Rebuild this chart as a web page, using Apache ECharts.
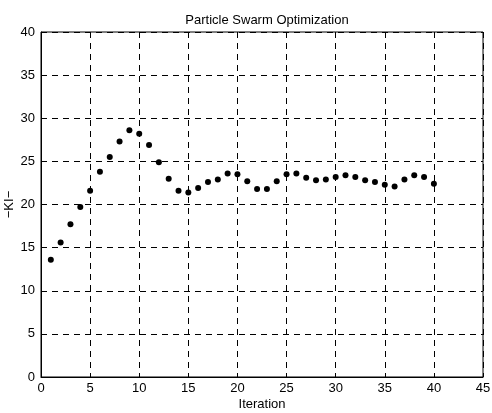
<!DOCTYPE html>
<html><head><meta charset="utf-8">
<script src="https://cdn.jsdelivr.net/npm/echarts@6/dist/echarts.min.js"></script>
<style>html,body{margin:0;padding:0;background:#fff}#c{width:492px;height:413px}</style>
</head><body><div id="c"></div>
<script>
const iterations = [1,2,3,4,5,6,7,8,9,10,11,12,13,14,15,16,17,18,19,20,21,22,23,24,25,26,27,28,29,30,31,32,33,34,35,36,37,38,39,40];
const kiValues = [13.6,15.6,17.7,19.7,21.6,23.8,25.5,27.3,28.6,28.2,26.9,24.9,23.0,21.6,21.4,21.9,22.6,22.9,23.6,23.5,22.7,21.8,21.8,22.7,23.5,23.6,23.1,22.8,22.9,23.2,23.4,23.2,22.8,22.6,22.3,22.1,22.9,23.4,23.2,22.4];
const xTicks = {min:0, max:45, interval:5};
const yTicks = {min:0, max:40, interval:5};

const chart = echarts.init(document.getElementById('c'));
const font = 'Liberation Sans, Arial, sans-serif';
chart.setOption({
  animation:false,
  title:{text:'Particle Swarm Optimization', left:262, top:9, textAlign:'center',
    textStyle:{fontFamily:font, fontSize:13, fontWeight:'normal', color:'#000'}},
  grid:{left:41, right:9, top:32, bottom:36, show:true, borderColor:'#000', borderWidth:1,
    containLabel:false, outerBoundsMode:'none'},
  xAxis:{type:'value', min:xTicks.min, max:xTicks.max, interval:xTicks.interval,
    name:'Iteration', nameLocation:'middle', nameGap:21, nameMoveOverlap:false,
    nameTextStyle:{fontFamily:font, fontSize:13, color:'#000'},
    axisLine:{show:true, lineStyle:{color:'#000'}},
    axisTick:{show:true, inside:true, length:4, lineStyle:{color:'#000'}},
    axisLabel:{fontFamily:font, fontSize:13, color:'#000', margin:5},
    splitLine:{show:true, lineStyle:{color:'#000', type:[6,5], width:1}}},
  yAxis:{type:'value', min:yTicks.min, max:yTicks.max, interval:yTicks.interval,
    name:'\u2212KI\u2212', nameLocation:'middle', nameGap:25, nameRotate:90, nameMoveOverlap:false,
    nameTextStyle:{fontFamily:font, fontSize:13, color:'#000'},
    axisLine:{show:true, lineStyle:{color:'#000'}},
    axisTick:{show:true, inside:true, length:4, lineStyle:{color:'#000'}},
    axisLabel:{fontFamily:font, fontSize:13, color:'#000', margin:6},
    splitLine:{show:true, lineStyle:{color:'#000', type:[6,5], width:1}}},
  series:[{type:'scatter', data:iterations.map((x,i)=>[x,kiValues[i]]),
    symbol:'circle', symbolSize:6, itemStyle:{color:'#000', opacity:1}}]
});
</script></body></html>
